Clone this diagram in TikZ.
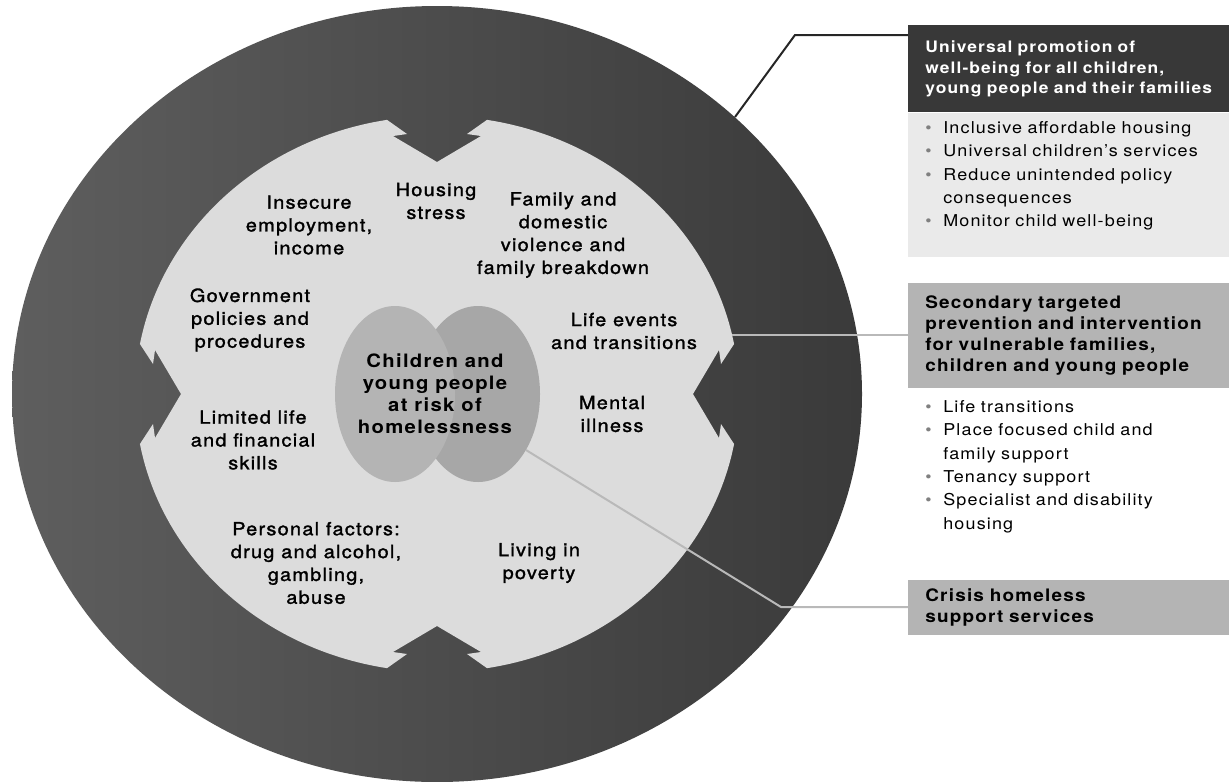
\documentclass[tikz,border=0pt]{standalone}
\usepackage{fontspec}
\setmainfont{TeX Gyre Heros}[FakeStretch=1.1, LetterSpace=7]
\newfontfamily\medfont{TeX Gyre Heros}[FakeStretch=1.1, LetterSpace=7, FakeBold=1.6]
\usepackage{xcolor}
\usepackage{tikz}
\usetikzlibrary{positioning, calc}

\definecolor{ringdark}{HTML}{3A3A3A}
\definecolor{ringlight}{HTML}{5E5E5E}
\definecolor{innergray}{HTML}{DCDCDC}
\definecolor{coregray}{HTML}{A7A7A7}
\definecolor{darkhead}{HTML}{383838}
\definecolor{midhead}{HTML}{B4B4B4}
\definecolor{listgray}{HTML}{EAEAEA}
\definecolor{linkgray}{HTML}{B9B9B9}

\newcommand{\bul}{\makebox[0.36cm][l]{\textcolor{gray}{\textbullet}}}

\tikzset{
  factor/.style={align=center, inner sep=0pt, font=\medfont\fontsize{10.3pt}{13pt}\selectfont},
  corelabel/.style={align=center, inner sep=0pt, font=\bfseries\fontsize{10.5pt}{12.5pt}\selectfont},
  hdr/.style={anchor=north west, minimum width=6.42cm, text width=5.74cm, inner xsep=0.34cm,
    align=left, font=\bfseries\fontsize{9pt}{11.7pt}\selectfont},
  lst/.style={anchor=north west, text width=5.74cm, inner xsep=0.34cm, inner ysep=0pt,
    align=left, font=\fontsize{9.3pt}{13.3pt}\selectfont},
  link/.style={line width=0.04cm}
}

\begin{document}
\begin{tikzpicture}[x=0.02cm, y=-0.02cm]
  \useasboundingbox (0,0) rectangle (1229,781);

  % outer ring
  \shade[left color=ringlight, right color=ringdark] (437,394) ellipse [x radius=425, y radius=388];

  % inner area with four arrows cut in
  \begin{scope}[shift={(437,394)}]
    \fill[innergray] (279.53:302 and 278)
      arc[start angle=279.53, end angle=349.64, x radius=302, y radius=278]
      -- (284,-30) -- (282,-44) -- (256,0) -- (282,44) -- (284,30)
      -- (10.36:302 and 278)
      arc[start angle=10.36, end angle=80.47, x radius=302, y radius=278]
      -- (30,260) -- (44,258) -- (0,232) -- (-44,258) -- (-30,260)
      -- (99.53:302 and 278)
      arc[start angle=99.53, end angle=169.64, x radius=302, y radius=278]
      -- (-284,30) -- (-282,44) -- (-256,0) -- (-282,-44) -- (-284,-30)
      -- (190.36:302 and 278)
      arc[start angle=190.36, end angle=260.47, x radius=302, y radius=278]
      -- (-30,-260) -- (-44,-258) -- (0,-232) -- (44,-258) -- (30,-260)
      -- cycle;
  \end{scope}

  % core
  \fill[coregray] (478,394) ellipse [x radius=62, y radius=88];
  \fill[coregray!85!white] (395,394) ellipse [x radius=60, y radius=88];

  % factors
  \node[factor] (insecure) at (309,225) {Insecure\\employment,\\income};
  \node[factor] (housing) at (436,201) {Housing\\stress};
  \node[factor] (family) at (563,235) {Family and\\domestic\\violence and\\family breakdown};
  \node[factor] (govt) at (250,320) {Government\\policies and\\procedures};
  \node[factor] (lifeev) at (624,331) {Life events\\and transitions};
  \node[corelabel] (core) at (435,394) {Children and\\young people\\at risk of\\homelessness};
  \node[factor] (mental) at (612,414) {Mental\\illness};
  \node[factor] (limited) at (253,440) {Limited life\\and financial\\skills};
  \node[factor] (personal) at (316,563) {Personal factors:\\drug and alcohol,\\gambling,\\abuse};
  \node[factor] (poverty) at (539,563) {Living in\\poverty};

  % boxes on the right
  \node[hdr, fill=darkhead, text=white, minimum height=1.74cm] (univ) at (908,25)
    {Universal promotion of\\well-being for all children,\\young people and their families};
  \fill[listgray] (univ.south west) rectangle (1229,257);
  \node[lst] (univlist) at (908,121)
    {\bul Inclusive affordable housing\\
     \bul Universal children's services\\
     \bul Reduce unintended policy\\
     \hphantom{\bul}consequences\\
     \bul Monitor child well-being};

  \node[hdr, fill=midhead, minimum height=2.1cm, font=\bfseries\fontsize{9.8pt}{12pt}\selectfont] (second) at (908,283)
    {Secondary targeted\\prevention and intervention\\for vulnerable families,\\children and young people};
  \node[lst] (seclist) at (908,400)
    {\bul Life transitions\\
     \bul Place focused child and\\
     \hphantom{\bul}family support\\
     \bul Tenancy support\\
     \bul Specialist and disability\\
     \hphantom{\bul}housing};

  \node[hdr, fill=midhead, minimum height=1.1cm, font=\bfseries\fontsize{9.8pt}{12pt}\selectfont] (crisis) at (908,580)
    {Crisis homeless\\support services};

  % connectors
  \coordinate (k1a) at (735,117);
  \coordinate (k1b) at (795,35);
  \coordinate (k2) at (732,335);
  \coordinate (k3a) at (526,450);
  \coordinate (k3b) at (781,607);
  \draw[link, black!85] (k1a) -- (k1b) -- (k1b -| univ.west);
  \draw[link, linkgray] (k2) -- (k2 -| second.west);
  \draw[link, linkgray] (k3a) -- (k3b) -- (k3b -| crisis.west);
\end{tikzpicture}
\end{document}
